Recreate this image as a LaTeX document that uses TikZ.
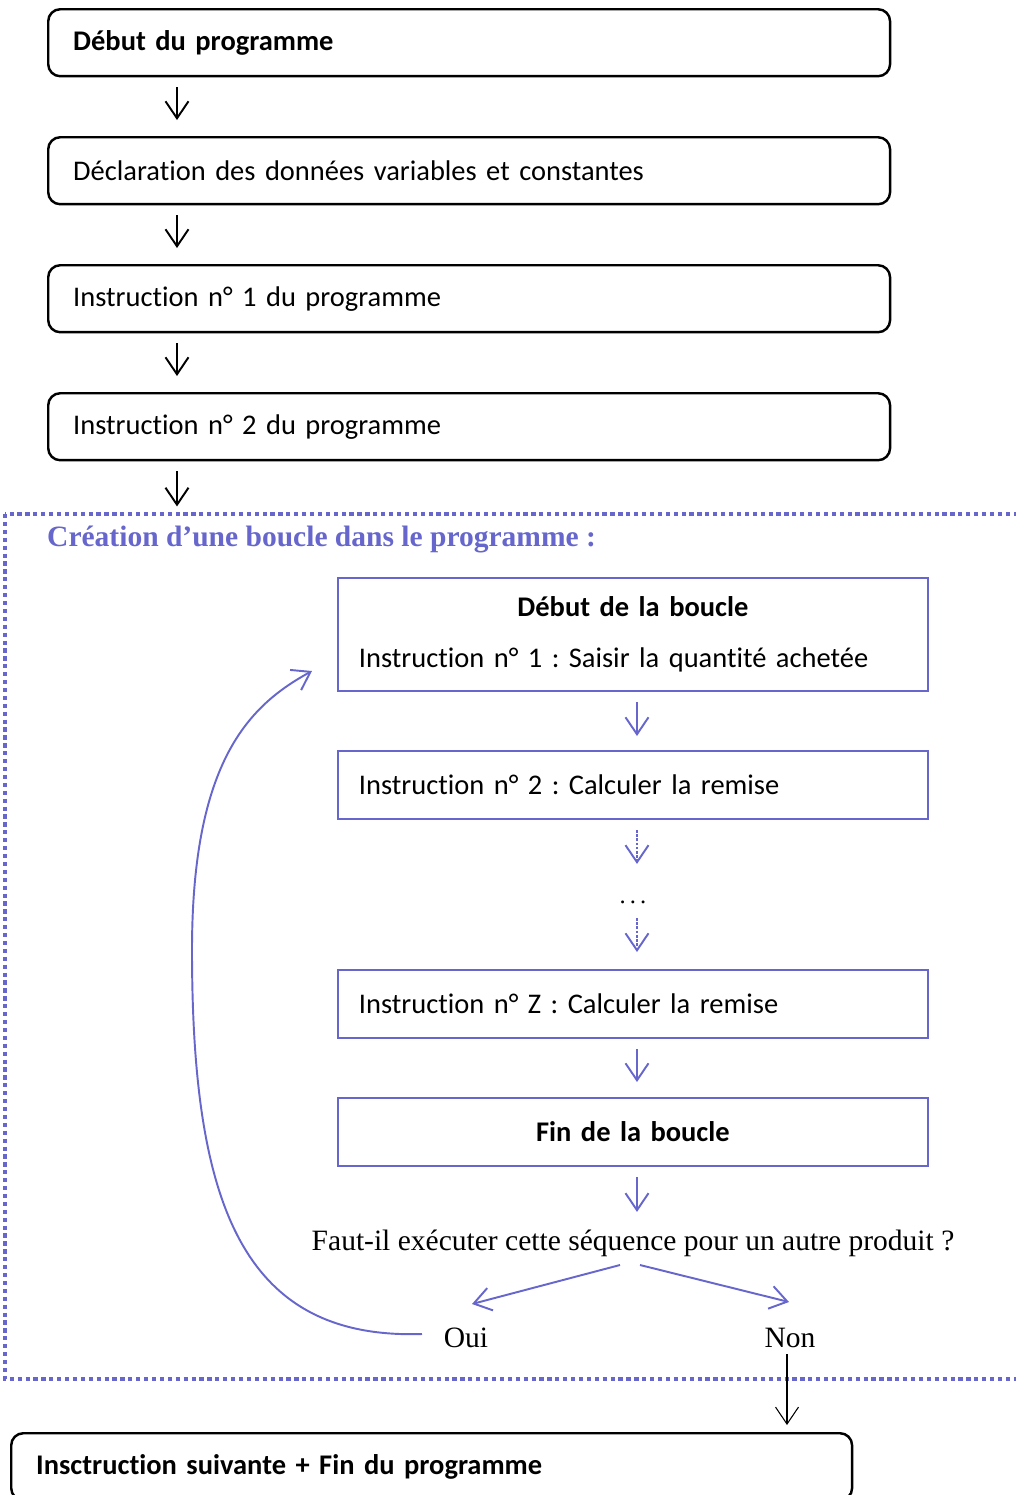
\documentclass[tikz,border=0pt]{standalone}
\usepackage{fontspec}
\setmainfont{Liberation Serif}
\newfontfamily\calibri[Ligatures=NoCommon, WordSpace=0.9]{Carlito}
\usetikzlibrary{arrows.meta}
\definecolor{loopblue}{RGB}{102,102,204}
\frenchspacing

\begin{document}
\begin{tikzpicture}[x=0.02cm, y=-0.02cm,
  >={Straight Barb[length=3.4mm,width=4.6mm]},
  progbox/.style={draw, line width=1.4pt, rounded corners=0.24cm, anchor=north west,
    minimum height=1.34cm, text width=15.84cm, inner xsep=0.5cm, align=left,
    font=\calibri\fontsize{16.2}{19}\selectfont},
  loopbox/.style={draw=loopblue, line width=1.1pt, anchor=north west,
    minimum height=1.36cm, text width=10.96cm, inner xsep=0.42cm, align=left,
    font=\calibri\fontsize{16.2}{19}\selectfont},
  blk/.style={->, line width=1.1pt},
  blu/.style={->, line width=1.1pt, loopblue},
  dots/.style={dash pattern=on 1.5pt off 0.9pt},
  serif/.style={font=\fontsize{16.8}{20}\selectfont}]
  \useasboundingbox (0,0) rectangle (1015,1495);

  % main program
  \node[progbox] (b1) at (47,8) {\bfseries Début du programme};
  \node[progbox] (b2) at (47,136) {Déclaration des données variables et constantes};
  \node[progbox] (b3) at (47,264) {Instruction n° 1 du programme};
  \node[progbox] (b4) at (47,392) {Instruction n° 2 du programme};
  \foreach \a/\b in {b1/b2,b2/b3,b3/b4}
    \draw[blk] ([shift={(130,10)}]\a.south west) -- ([shift={(130,-16)}]\b.north west);
  \draw[blk] ([shift={(130,10)}]b4.south west) -- ++(0,35);

  % the loop
  \draw[loopblue, line width=2pt, dash pattern=on 2.4pt off 2.1pt] (5,514) rectangle (1030,1379);
  \node[anchor=west, loopblue, font=\bfseries\fontsize{16.8}{20}\selectfont] (title) at (41,539)
    {Création d’une boucle dans le programme :};
  \node[loopbox, minimum height=2.26cm] (l1) at (337,577)
    {\makebox[\linewidth]{\bfseries Début de la boucle}\\[10pt]Instruction n° 1 : Saisir la quantité achetée};
  \node[loopbox] (l2) at (337,750) {Instruction n° 2 : Calculer la remise};
  \node[font=\fontsize{14}{16}\selectfont] (etc) at (633,902) {.\,.\,.};
  \node[loopbox] (lz) at (337,969) {Instruction n° Z : Calculer la remise};
  \node[loopbox, align=center] (lfin) at (337,1097) {\bfseries Fin de la boucle};
  \draw[blu] ([shift={(300,10)}]l1.south west) -- ([shift={(300,-14)}]l2.north west);
  \draw[blu, dots] ([shift={(300,10)}]l2.south west) -- ([shift={(300,44)}]l2.south west);
  \draw[blu, dots] ([shift={(300,-51)}]lz.north west) -- ([shift={(300,-17)}]lz.north west);
  \draw[blu] ([shift={(300,10)}]lz.south west) -- ([shift={(300,-15)}]lfin.north west);
  \draw[blu] ([shift={(300,10)}]lfin.south west) -- ++(0,35);

  \node[serif] (ask) at (633,1243) {Faut-il exécuter cette séquence pour un autre produit ?};
  \node[serif] (oui) at (466,1338) {Oui};
  \node[serif] (non) at (790,1338) {Non};
  \draw[blu] ([shift={(-13,22)}]ask.center) -- ([shift={(6,-34)}]oui.center);
  \draw[blu] ([shift={(7,22)}]ask.center) -- ([shift={(-1,-36)}]non.center);
  \draw[blu] ([shift={(-44,-4)}]oui.center) .. controls (240,1340) and (192,1200) .. (192,950)
    .. controls (192,760) and (250,705) .. ([shift={(-25,94)}]l1.north west);

  % after the loop
  \node[progbox, text width=15.82cm] (fin) at (10,1432) {\bfseries Insctruction suivante + Fin du programme};
  \draw[->, line width=0.6pt] ([shift={(-3,0)}]non.south) -- ([shift={(-3,-7)}]non.south |- fin.north);
\end{tikzpicture}
\end{document}
